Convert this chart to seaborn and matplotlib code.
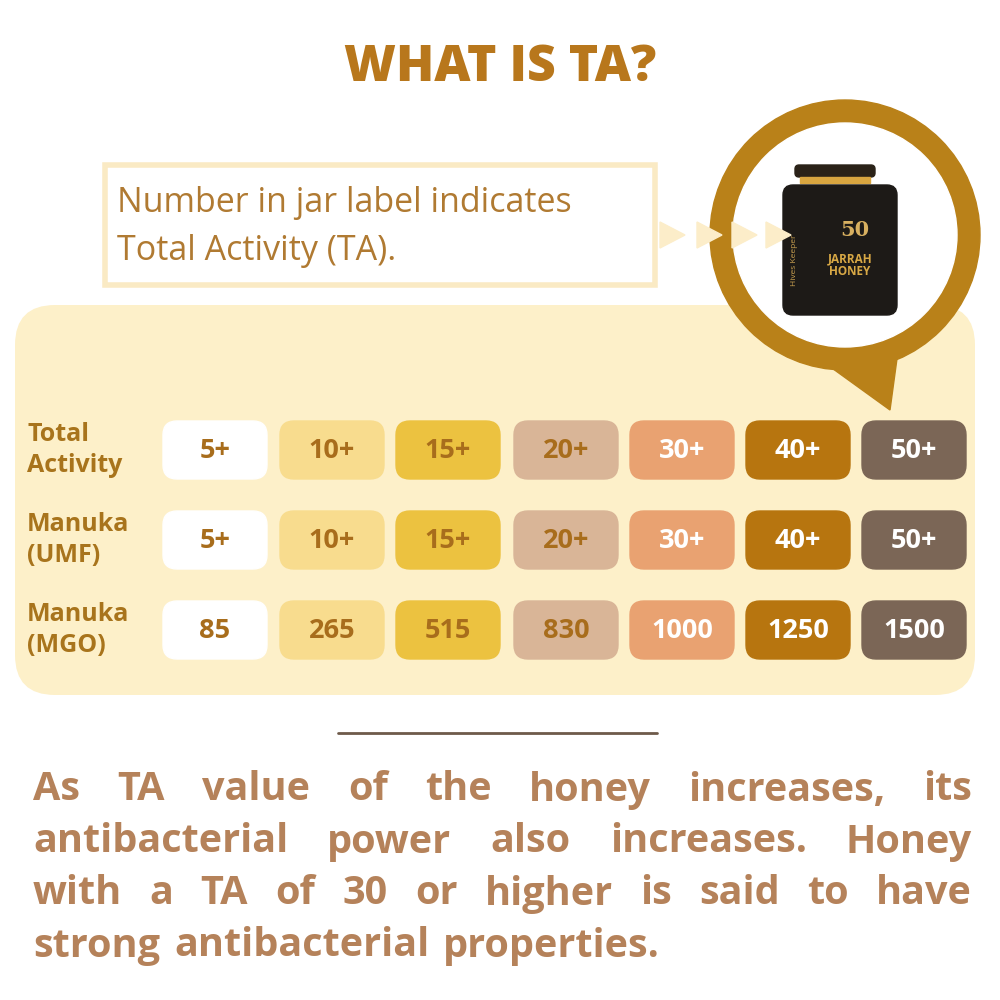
import matplotlib
matplotlib.use("Agg")
import matplotlib.pyplot as plt
import seaborn as sns
from matplotlib.patches import FancyBboxPatch, Rectangle, Circle, Polygon

sns.set_theme(style="white")
plt.rcParams['font.family'] = ['Open Sans', 'DejaVu Sans']

row_labels = ["Total\nActivity", "Manuka\n(UMF)", "Manuka\n(MGO)"]
ta_values = ["5+", "10+", "15+", "20+", "30+", "40+", "50+"]
umf_values = ["5+", "10+", "15+", "20+", "30+", "40+", "50+"]
mgo_values = ["85", "265", "515", "830", "1000", "1250", "1500"]
cell_colors = ["#ffffff", "#f8dc8e", "#ecc240", "#d9b597", "#e9a271", "#b7750f", "#7b6656"]
text_colors = ["#a86d1c", "#a86d1c", "#a86d1c", "#a86d1c", "#ffffff", "#ffffff", "#ffffff"]
para_lines = ["As TA value of the honey increases, its",
              "antibacterial power also increases. Honey",
              "with a TA of 30 or higher is said to have",
              "strong antibacterial properties."]

fig = plt.figure(figsize=(10, 10), dpi=100)
ax = fig.add_axes([0, 0, 1, 1])
ax.set_xlim(0, 1000); ax.set_ylim(1000, 0); ax.axis("off")
fig.patch.set_facecolor("white")

gold = "#b8771c"
ax.text(500, 68, "WHAT IS TA?", ha="center", va="center", fontsize=36,
        fontweight="heavy", color=gold)

# info box
ax.add_patch(Rectangle((105, 165), 550, 120, facecolor="white", edgecolor="#faeac4", lw=4))
ax.text(117, 203, "Number in jar label indicates", fontsize=24.5, color="#b07a32", va="center")
ax.text(117, 251, "Total Activity (TA).", fontsize=24.5, color="#b07a32", va="center")

# panel
ax.add_patch(FancyBboxPatch((15, 305), 960, 390, boxstyle="round,pad=0,rounding_size=40",
                            facecolor="#fdf0c9", edgecolor="none"))

# circle badge
ax.add_patch(Polygon([[905, 300], [890, 410], [800, 345]], color="#b98119"))
ax.add_patch(Circle((845, 235), 135, color="#b98119"))
ax.add_patch(Circle((845, 235), 112, color="white"))
for x in [660, 697, 732, 766]:
    ax.add_patch(Polygon([[x, 222], [x + 25, 235], [x, 248]], color="#fcedc9", zorder=5))
# jar
ax.add_patch(FancyBboxPatch((795, 165), 80, 12, boxstyle="round,pad=0,rounding_size=4", color="#2a2218"))
ax.add_patch(Rectangle((800, 177), 70, 6, color="#d9a640"))
ax.add_patch(FancyBboxPatch((783, 185), 114, 130, boxstyle="round,pad=0,rounding_size=10", color="#1d1a17"))
ax.text(855, 230, "50", fontsize=15, color="#d8b060", fontweight="bold", ha="center", va="center", family="DejaVu Serif")
ax.text(850, 265, "JARRAH\nHONEY", fontsize=8.5, color="#d8a845", fontweight="bold", ha="center", va="center", linespacing=1.0)
ax.text(795, 260, "Hives Keeper", fontsize=6, color="#c9a050", rotation=90, ha="center", va="center")

xs = [215, 332, 448, 566, 682, 798, 914]
ys = [450, 540, 630]
rows = [ta_values, umf_values, mgo_values]
w, h = 104, 58
for r, (y, vals, lab) in enumerate(zip(ys, rows, row_labels)):
    ax.text(27, y, lab, fontsize=18, fontweight="bold", color="#a8741c", va="center", linespacing=1.3)
    for x, v, c, tc in zip(xs, vals, cell_colors, text_colors):
        ax.add_patch(FancyBboxPatch((x - w / 2, y - h / 2), w, h,
                                    boxstyle="round,pad=0,rounding_size=14", color=c))
        ax.text(x, y + 1, v, ha="center", va="center", fontsize=19.5, fontweight="bold", color=tc)

ax.plot([338, 657], [733, 733], color="#6e5a4a", lw=2)

# justified paragraph
fig.canvas.draw()
rend = fig.canvas.get_renderer()
inv = ax.transData.inverted()
left, right = 33, 972
for i, line in enumerate(para_lines):
    y = 790 + i * 52
    words = line.split()
    objs = [ax.text(0, y, wd, fontsize=28.5, fontweight="bold", color="#b5825a", va="center") for wd in words]
    widths = []
    for o in objs:
        bb = o.get_window_extent(rend)
        x0 = inv.transform((bb.x0, bb.y0))[0]; x1 = inv.transform((bb.x1, bb.y0))[0]
        widths.append(x1 - x0)
    if i < len(para_lines) - 1:
        gap = (right - left - sum(widths)) / (len(words) - 1)
    else:
        gap = 14
    x = left
    for o, wdt in zip(objs, widths):
        o.set_x(x); x += wdt + gap

fig.savefig("out.png", dpi=100, facecolor="white")
